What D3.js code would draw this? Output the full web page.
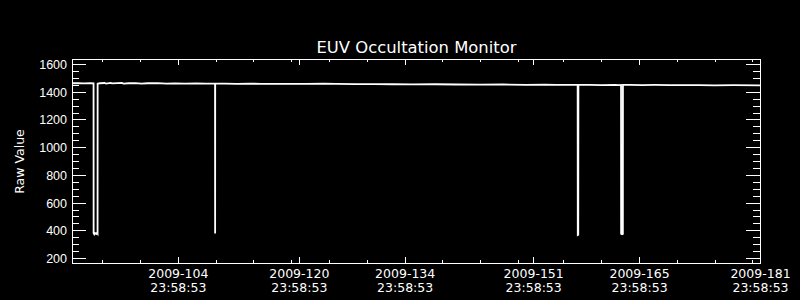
<!DOCTYPE html>
<html lang="en">
<head>
  <meta charset="UTF-8" />
  <title>EUV Occultation Monitor</title>
  <style>
    body {
      margin: 0;
      background: #000;
    }
    svg {
      display: block;
      background: #000;
      font-family: 'DejaVu Sans', sans-serif;
    }
    .axis path { display: none; }
    .axis line { stroke: #fff; shape-rendering: crispEdges; }
    .axis text { fill: #fff; font-size: 12.5px; }
    .frame { fill: none; stroke: #fff; stroke-width: 1; shape-rendering: crispEdges; }
    .line { fill: none; stroke: #fff; stroke-width: 1.8; }
    .label { fill: #fff; }
  </style>
</head>
<body>
  <svg width="800" height="300"></svg>

  <script src="https://d3js.org/d3.v7.min.js"></script>
  <script>
    // --- data: day of year 2009 (fractional) and raw counts
    const obsDay = [
      91.00, 91.80, 92.60, 93.40, 93.85, 93.86, 93.95, 94.05, 94.20, 94.30, 94.38, 94.39,
      94.70, 95.30, 95.50, 96.10, 96.30, 97.00, 97.60, 97.80, 98.50, 99.40, 100.20, 101.00,
      102.30, 103.50, 104.60, 106.00, 107.40, 108.70, 109.92, 109.93, 109.94, 111.20, 112.80,
      114.50, 116.00, 118.20, 120.00, 122.00, 124.30, 126.00, 128.50, 131.00, 133.50, 136.00,
      139.00, 142.00, 145.00, 148.00, 151.00, 153.50, 155.00, 157.88, 157.90, 157.96, 157.98,
      159.50, 161.00, 162.80, 163.40, 163.62, 163.63, 163.75, 163.86, 163.87, 164.80, 166.50,
      168.00, 170.00, 172.30, 174.00, 176.00, 178.50, 181.99
    ];
    const rawValue = [
      1461, 1462, 1460, 1461, 1460, 378, 371, 380, 374, 382, 376, 1458,
      1461, 1463, 1459, 1464, 1460, 1462, 1464, 1459, 1461, 1462, 1459, 1461,
      1462, 1459, 1460, 1459, 1460, 1458, 1459, 376, 1458, 1459, 1457,
      1458, 1457, 1457, 1456, 1457, 1458, 1456, 1455, 1455, 1454, 1453,
      1454, 1452, 1451, 1452, 1450, 1451, 1449, 1450, 366, 368, 1450,
      1449, 1448, 1450, 1448, 1449, 375, 372, 374, 1449, 1450, 1448,
      1449, 1448, 1447, 1448, 1446, 1447, 1446
    ];

    // axis ticks (day of year, all at 23:58:53)
    const xMajorDays = [104, 120, 134, 151, 165, 181];
    const xMinorDays = [94, 99, 109, 114, 119, 124, 129, 139, 144, 149, 155, 160, 170, 175, 180];
    const yMajor = [200, 400, 600, 800, 1000, 1200, 1400, 1600];
    const yMinorStep = 50;

    const title = "EUV Occultation Monitor";
    const yTitle = "Raw Value";

    // day-of-year -> Date
    const doy = d => new Date(Date.UTC(2009, 0, 1) + (d - 1) * 864e5);
    const tickTime = d => new Date(Date.UTC(2009, 0, 1, 23, 58, 53) + (d - 1) * 864e5);

    const data = obsDay.map((d, i) => ({ date: doy(d), value: rawValue[i] }));

    const svg = d3.select("svg");
    const pLeft = 72, pRight = 760, pTop = 59, pBottom = 263;

    const x = d3.scaleUtc()
      .domain([tickTime(90), tickTime(181)])
      .range([pLeft, pRight]);
    const y = d3.scaleLinear()
      .domain([163.92, 1636.1])
      .range([pBottom, pTop]);

    // data line
    svg.append("path")
      .datum(data)
      .attr("class", "line")
      .attr("d", d3.line().x(d => x(d.date)).y(d => y(d.value)));

    // frame
    svg.append("rect").attr("class", "frame")
      .attr("x", pLeft + 0.5).attr("y", pTop + 0.5)
      .attr("width", pRight - pLeft).attr("height", pBottom - pTop);

    const xMajor = xMajorDays.map(tickTime);
    const xMinor = xMinorDays.map(tickTime);
    const yMinor = d3.range(yMajor[0], yMajor[yMajor.length - 1], yMinorStep).filter(v => v % 200 !== 0);

    // x ticks, inward on bottom and top
    [[d3.axisBottom, pBottom], [d3.axisTop, pTop]].forEach(([axis, yPos]) => {
      svg.append("g").attr("class", "axis").attr("transform", `translate(0,${yPos})`)
        .call(axis(x).tickValues(xMajor).tickSize(-6).tickSizeOuter(0).tickFormat(""));
      svg.append("g").attr("class", "axis").attr("transform", `translate(0,${yPos})`)
        .call(axis(x).tickValues(xMinor).tickSize(-3).tickSizeOuter(0).tickFormat(""));
    });

    // y ticks, inward on left and right
    svg.append("g").attr("class", "axis").attr("transform", `translate(${pLeft},0)`)
      .call(d3.axisLeft(y).tickValues(yMajor).tickSize(-14).tickPadding(5).tickSizeOuter(0).tickFormat(d3.format("d")))
      .selectAll("text").attr("dy", "0.36em");
    svg.append("g").attr("class", "axis").attr("transform", `translate(${pLeft},0)`)
      .call(d3.axisLeft(y).tickValues(yMinor).tickSize(-7).tickSizeOuter(0).tickFormat(""));
    svg.append("g").attr("class", "axis").attr("transform", `translate(${pRight},0)`)
      .call(d3.axisRight(y).tickValues(yMajor).tickSize(-14).tickSizeOuter(0).tickFormat(""));
    svg.append("g").attr("class", "axis").attr("transform", `translate(${pRight},0)`)
      .call(d3.axisRight(y).tickValues(yMinor).tickSize(-7).tickSizeOuter(0).tickFormat(""));

    // x tick labels, two lines
    const xl = svg.append("g").selectAll("text").data(xMajor).join("text")
      .attr("class", "label")
      .attr("text-anchor", "middle")
      .style("font-size", "12.5px")
      .attr("transform", d => `translate(${x(d) + 0.5},0)`);
    xl.append("tspan").attr("x", 0).attr("y", 278).text(d3.utcFormat("%Y-%j"));
    xl.append("tspan").attr("x", 0).attr("y", 292).text(d3.utcFormat("%H:%M:%S"));

    // titles
    svg.append("text").attr("class", "label")
      .attr("x", (pLeft + pRight) / 2 + 0.5).attr("y", 53)
      .attr("text-anchor", "middle")
      .style("font-size", "16.4px")
      .text(title);

    svg.append("text").attr("class", "label")
      .attr("transform", `translate(24,${(pTop + pBottom) / 2 + 0.5}) rotate(-90)`)
      .attr("text-anchor", "middle")
      .style("font-size", "12.5px")
      .text(yTitle);
  </script>
</body>
</html>
